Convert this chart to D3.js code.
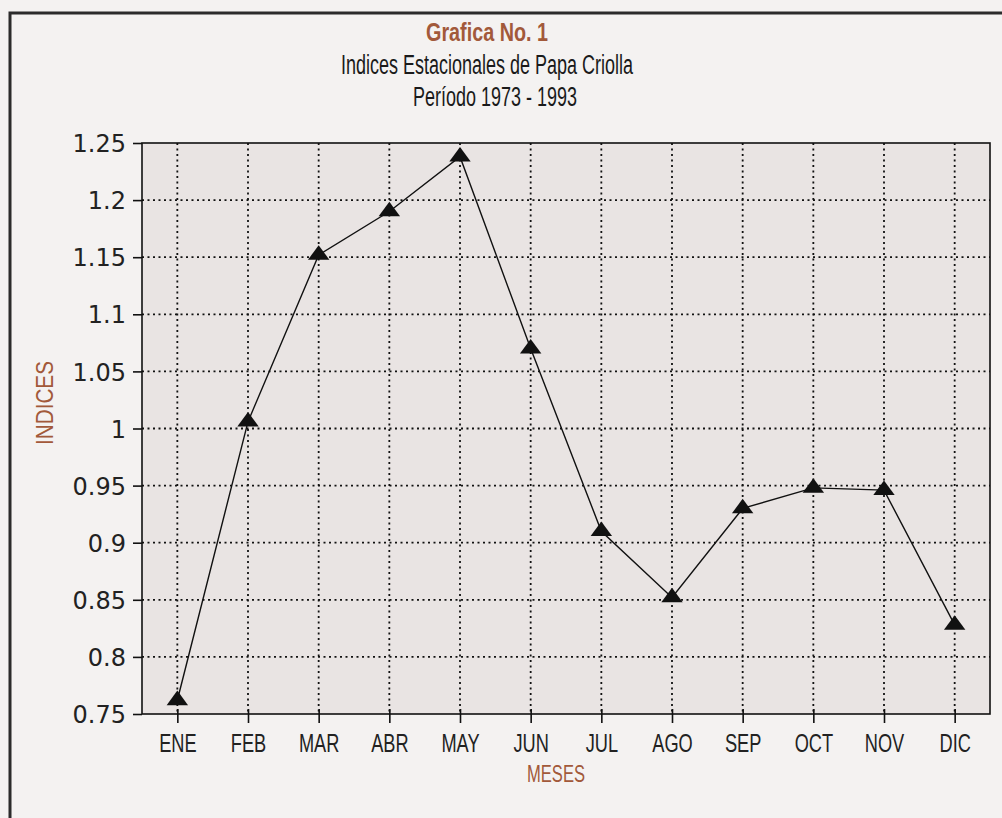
<!DOCTYPE html>
<html>
<head>
<meta charset="utf-8">
<script src="https://cdn.jsdelivr.net/npm/d3@7"></script>
<style>
  html, body { margin: 0; padding: 0; background: #f4f2f1; }
  svg { display: block; }
</style>
</head>
<body>
<svg id="chart" width="1002" height="818"></svg>
<script>
// ---- data ----
const months = ["ENE","FEB","MAR","ABR","MAY","JUN","JUL","AGO","SEP","OCT","NOV","DIC"];
const indices = [0.762, 1.006, 1.152, 1.190, 1.238, 1.070, 0.910, 0.852, 0.930, 0.948, 0.946, 0.828];
const yTicks = [0.75, 0.8, 0.85, 0.9, 0.95, 1, 1.05, 1.1, 1.15, 1.2, 1.25];
const yTickLabels = ["0.75","0.8","0.85","0.9","0.95","1","1.05","1.1","1.15","1.2","1.25"];
const titleLines = ["Grafica No. 1", "Indices Estacionales de Papa Criolla", "Período 1973 - 1993"];
const xTitle = "MESES";
const yTitle = "INDICES";

// ---- layout ----
const svg = d3.select("#chart");
const plot = { left: 142, top: 143, right: 990, bottom: 714 };
const brown = "#a2593a";
const narrow = "'Liberation Sans Narrow', 'Arial Narrow', 'Liberation Sans', sans-serif";
const round = "'DejaVu Sans', 'Liberation Sans', sans-serif";

// squeeze a text horizontally by a factor (condensed look)
function squeeze(sel, f) {
  sel.each(function () {
    const w = this.getComputedTextLength();
    d3.select(this).attr("textLength", w * f).attr("lengthAdjust", "spacingAndGlyphs");
  });
}
function fitWidth(sel, w) {
  sel.attr("textLength", w).attr("lengthAdjust", "spacingAndGlyphs");
}

// page background and outer frame
svg.append("rect").attr("x", 0).attr("y", 0).attr("width", 1002).attr("height", 818).attr("fill", "#f4f2f1");
svg.append("path")
  .attr("d", "M10,830 L10,13 L1010,13")
  .attr("fill", "none").attr("stroke", "#2b2b2b").attr("stroke-width", 3);

const x = d3.scalePoint().domain(months).range([plot.left, plot.right]).padding(0.5);
const y = d3.scaleLinear().domain([0.75, 1.25]).range([plot.bottom, plot.top]);

// plot background
svg.append("rect")
  .attr("x", plot.left).attr("y", plot.top)
  .attr("width", plot.right - plot.left).attr("height", plot.bottom - plot.top)
  .attr("fill", "#e9e4e3");

// grid
const grid = svg.append("g").attr("stroke", "#111").attr("stroke-width", 1.8).attr("stroke-dasharray", "2,3.5");
grid.selectAll("line.h").data(yTicks.filter(v => v > 0.75 && v < 1.25)).join("line")
  .attr("x1", plot.left).attr("x2", plot.right)
  .attr("y1", d => y(d)).attr("y2", d => y(d));
grid.selectAll("line.v").data(months).join("line")
  .attr("x1", d => x(d)).attr("x2", d => x(d))
  .attr("y1", plot.top).attr("y2", plot.bottom);

// frame
svg.append("rect")
  .attr("x", plot.left).attr("y", plot.top)
  .attr("width", plot.right - plot.left).attr("height", plot.bottom - plot.top)
  .attr("fill", "none").attr("stroke", "#111").attr("stroke-width", 1.6);

// y axis
const yAxis = d3.axisLeft(y).tickValues(yTicks)
  .tickFormat((d, i) => yTickLabels[i]).tickSize(9).tickPadding(8);
const gy = svg.append("g").attr("transform", `translate(${plot.left},0)`).call(yAxis);
gy.select(".domain").remove();
gy.selectAll("line").attr("stroke", "#111").attr("stroke-width", 1.6);
gy.selectAll("text").attr("font-family", round).attr("font-size", 24).attr("fill", "#222")
  .attr("dy", "0.36em").attr("x", -16);

// x axis
const xAxis = d3.axisBottom(x).tickSize(9).tickPadding(12);
const gx = svg.append("g").attr("transform", `translate(0,${plot.bottom})`).call(xAxis);
gx.select(".domain").remove();
gx.selectAll("line").attr("stroke", "#111").attr("stroke-width", 1.6).attr("y1", -5);
gx.selectAll("text").attr("font-family", narrow).attr("font-size", 26).attr("fill", "#222")
  .attr("y", 20);
squeeze(gx.selectAll("text"), 0.7);

// line
const line = d3.line().x((d, i) => x(months[i])).y(d => y(d));
svg.append("path").datum(indices)
  .attr("d", line).attr("fill", "none").attr("stroke", "#111").attr("stroke-width", 1.4);

// markers
const tri = d3.symbol().type(d3.symbolTriangle).size(150);
svg.selectAll("path.mk").data(indices).join("path")
  .attr("class", "mk")
  .attr("transform", (d, i) => `translate(${x(months[i])},${y(d)}) scale(1.15,0.9)`)
  .attr("d", tri).attr("fill", "#111");

// titles
const t1 = svg.append("text").text(titleLines[0])
  .attr("x", 487).attr("y", 41).attr("text-anchor", "middle")
  .attr("font-family", narrow).attr("font-weight", "bold").attr("font-size", 26).attr("fill", brown);
fitWidth(t1, 122);
const t2 = svg.append("text").text(titleLines[1])
  .attr("x", 487).attr("y", 74).attr("text-anchor", "middle")
  .attr("font-family", narrow).attr("font-size", 27).attr("fill", "#1a1a1a");
fitWidth(t2, 292);
const t3 = svg.append("text").text(titleLines[2])
  .attr("x", 495).attr("y", 106).attr("text-anchor", "middle")
  .attr("font-family", narrow).attr("font-size", 27).attr("fill", "#1a1a1a");
fitWidth(t3, 164);

// axis titles
const xt = svg.append("text").text(xTitle)
  .attr("x", 556).attr("y", 782).attr("text-anchor", "middle")
  .attr("font-family", narrow).attr("font-size", 24).attr("fill", brown);
fitWidth(xt, 58);
const yt = svg.append("text").text(yTitle)
  .attr("transform", "translate(53,403) rotate(-90)").attr("text-anchor", "middle")
  .attr("font-family", narrow).attr("font-size", 24).attr("fill", brown);
fitWidth(yt, 84);
</script>
</body>
</html>
